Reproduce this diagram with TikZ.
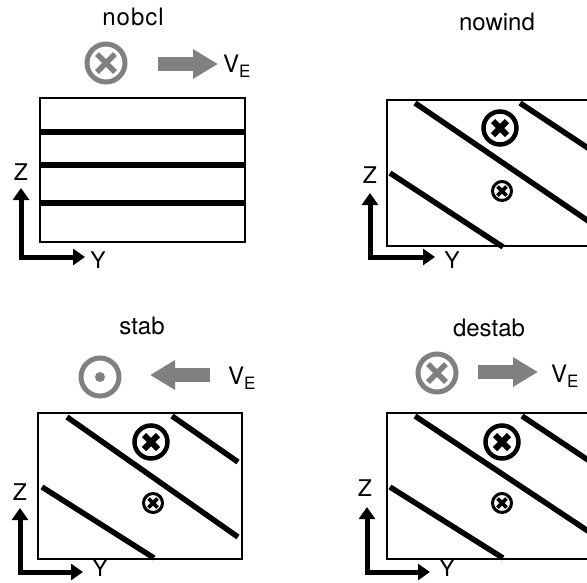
\documentclass[tikz,border=0pt]{standalone}
\usepackage{fontspec}
\setmainfont{TeX Gyre Heros}
\usetikzlibrary{arrows.meta}
\definecolor{flow}{gray}{0.5}

\begin{document}
\begin{tikzpicture}[x=1pt,y=-1pt,
  frame/.style={draw, line width=1.8pt},
  iso/.style={line width=5.5pt, line cap=butt},
  axis/.style={line width=5pt, line join=miter,
    {Triangle[length=12pt,width=16pt]}-{Triangle[length=12pt,width=16pt]}},
  wind/.style={draw=flow, line width=14pt, -{Triangle[length=25pt,width=28pt]}},
  title/.style={font=\fontsize{24}{28}\selectfont, inner sep=0pt},
  axlabel/.style={font=\fontsize{23}{26}\selectfont, inner sep=0pt},
  vlabel/.style={font=\fontsize{24}{27}\selectfont, inner sep=0pt, anchor=base west},
  bigx/.style={circle, draw, line width=4.5pt, minimum size=33pt, inner sep=0pt,
    path picture={\draw[line width=6pt]
      (path picture bounding box.center) +(-7,-7) -- +(7,7)
      (path picture bounding box.center) +(-7,7) -- +(7,-7);}},
  smallx/.style={circle, draw, line width=3pt, minimum size=19pt, inner sep=0pt,
    path picture={\draw[line width=3.6pt]
      (path picture bounding box.center) +(-4.5,-4.5) -- +(4.5,4.5)
      (path picture bounding box.center) +(-4.5,4.5) -- +(4.5,-4.5);}},
  grayx/.style={circle, draw=flow, line width=5pt, minimum size=38pt, inner sep=0pt,
    path picture={\draw[flow, line width=5.5pt]
      (path picture bounding box.center) +(-9,-9) -- +(9,9)
      (path picture bounding box.center) +(-9,9) -- +(9,-9);}},
  graydot/.style={circle, draw=flow, line width=5pt, minimum size=38pt, inner sep=0pt,
    path picture={\fill[flow] (path picture bounding box.center) circle[radius=5];}},
]
\useasboundingbox (0,0) rectangle (587,582);
\clip (0,0) rectangle (587,582);

% ---------- nobcl ----------
\node[title] (t1) at (133,17) {n\kern1pt o\kern1pt b\kern1pt c\kern1pt l};
\node[grayx] (m1) at (106,63) {};
\coordinate (w1a) at (158,64);
\coordinate (w1b) at (218,64);
\draw[wind] (w1a) -- (w1b);
\node[vlabel] (v1) at (223,72) {V\raisebox{-5pt}{\fontsize{17}{19}\selectfont E}};
\draw[frame] (40,98) rectangle (245,242);
\draw[iso] (40,132) -- (245,132);
\draw[iso] (40,165) -- (245,165);
\draw[iso] (40,203) -- (245,203);
\coordinate (z1) at (21,188);
\coordinate (y1) at (85,257);
\draw[axis] (z1) |- (y1);
\node[axlabel] (zl1) at (21,172) {Z};
\node[axlabel] (yl1) at (98,260) {Y};

% ---------- nowind ----------
\node[title] (t2) at (497,22) {nowind};
\draw[frame] (387,100) rectangle (591,246);
\draw[iso] (415,103) -- (600,229);
\draw[iso] (390,173) -- (503,247);
\draw[iso] (520,103) -- (600,156);
\node[bigx] (b2) at (500,128) {};
\node[smallx] (s2) at (502,191) {};
\coordinate (z2) at (370,193);
\coordinate (y2) at (435,257);
\draw[axis] (z2) |- (y2);
\node[axlabel] (zl2) at (370,175) {Z};
\node[axlabel] (yl2) at (452,260) {Y};

% ---------- stab ----------
\node[title] (t3) at (142,326) {stab};
\node[graydot] (m3) at (100,377) {};
\coordinate (w3a) at (210,375);
\coordinate (w3b) at (150,375);
\draw[wind] (w3a) -- (w3b);
\node[vlabel] (v3) at (228,384) {V\raisebox{-5pt}{\fontsize{17}{19}\selectfont E}};
\draw[frame] (38,413) rectangle (242,559);
\draw[iso] (67,417) -- (238,537);
\draw[iso] (42,487) -- (154,558);
\draw[iso] (172,416) -- (238,462);
\node[bigx] (b3) at (151,442) {};
\node[smallx] (s3) at (153,503) {};
\coordinate (z3) at (20,508);
\coordinate (y3) at (83,572);
\draw[axis] (z3) |- (y3);
\node[axlabel] (zl3) at (20,492) {Z};
\node[axlabel] (yl3) at (100,568) {Y};

% ---------- destab ----------
\node[title] (t4) at (489,328) {destab};
\node[grayx] (m4) at (437,373) {};
\coordinate (w4a) at (478,372);
\coordinate (w4b) at (538,372);
\draw[wind] (w4a) -- (w4b);
\node[vlabel] (v4) at (551,382) {V\raisebox{-5pt}{\fontsize{17}{19}\selectfont E}};
\draw[frame] (387,413) rectangle (591,559);
\draw[iso] (415,416) -- (600,539);
\draw[iso] (390,487) -- (503,558);
\draw[iso] (522,416) -- (600,468);
\node[bigx] (b4) at (502,442) {};
\node[smallx] (s4) at (502,503) {};
\coordinate (z4) at (367,507);
\coordinate (y4) at (430,572);
\draw[axis] (z4) |- (y4);
\node[axlabel] (zl4) at (365,488) {Z};
\node[axlabel] (yl4) at (447,568) {Y};
\end{tikzpicture}
\end{document}
